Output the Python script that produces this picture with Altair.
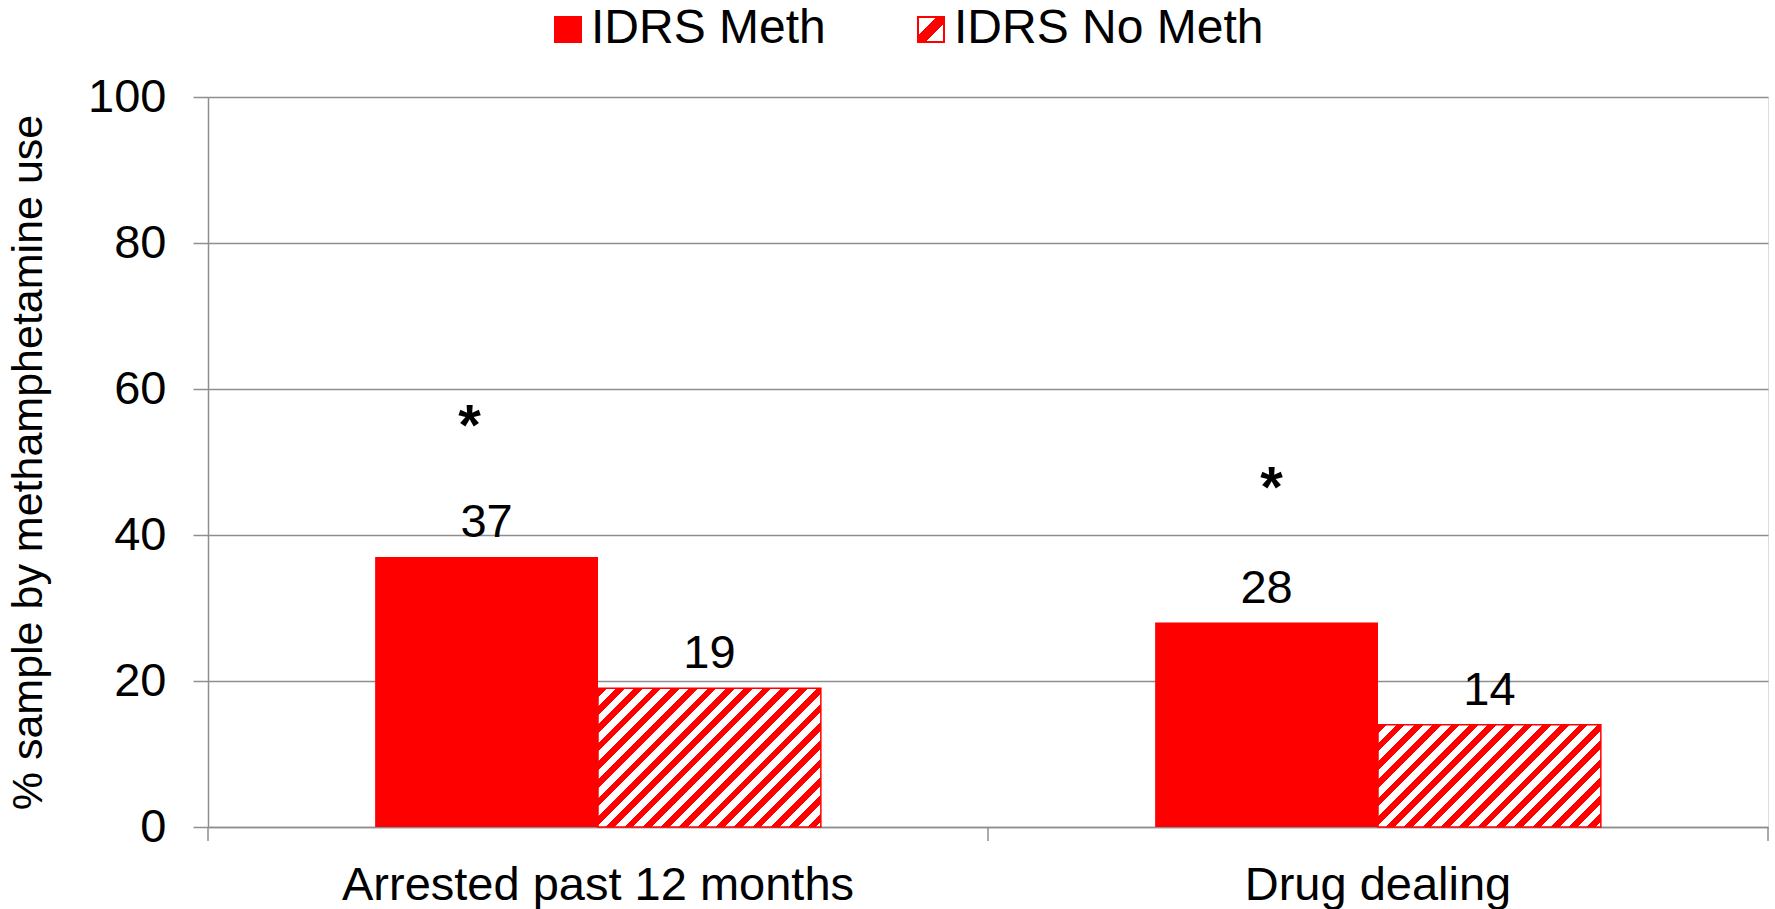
import altair as alt
import pandas as pd

# --- data -----------------------------------------------------------------
categories = ["Arrested past 12 months", "Drug dealing"]
groups = ["IDRS Meth", "IDRS No Meth"]
meth_values = [37, 28]
no_meth_values = [19, 14]
significant = ["*", "*"]
y_ticks = [0, 20, 40, 60, 80, 100]

# --- styling ----------------------------------------------------------------
W, H = 1560, 730
Y_MAX = 100
RED = "#FF0000"
GRID = "#8E8E8E"
FONT = "Liberation Sans"
FS = 47
TICK_LEN = 14
HATCH_PERIOD = 18.3
HATCH_RED = 0.48
STAR_NUDGE = {"Arrested past 12 months": (-17, -112), "Drug dealing": (5, -116)}

rows = []
for c, m, n in zip(categories, meth_values, no_meth_values):
    rows.append({"category": c, "group": groups[0], "value": m})
    rows.append({"category": c, "group": groups[1], "value": n})
df = pd.DataFrame(rows)

x_scale = alt.Scale(domain=categories, paddingInner=0, paddingOuter=0)
off_pad = 0.75
off_scale = alt.Scale(domain=groups, paddingInner=0, paddingOuter=off_pad)
y_scale = alt.Scale(domain=[0, Y_MAX], nice=False, zero=True)

bar_w = (W / len(categories)) / (len(groups) + 2 * off_pad)


def hatch(w, h, period=HATCH_PERIOD, red_frac=HATCH_RED):
    """Diagonal '/' stripes at 45 degrees for a w x h box (bbox gradient)."""
    n = (w + h) / period
    stops = []
    k = 0
    while k < n:
        a = k / n
        b = min((k + red_frac) / n, 1.0)
        c = min((k + 1) / n, 1.0)
        stops += [
            {"offset": a, "color": RED},
            {"offset": b, "color": RED},
            {"offset": b, "color": "white"},
            {"offset": c, "color": "white"},
        ]
        k += 1
    t = (w + h) / (w * w + h * h)
    return {"gradient": "linear", "x1": 0, "y1": 0, "x2": w * t, "y2": h * t,
            "stops": stops}


x_axis = alt.Axis(
    title=None, labelAngle=0, ticks=False, tickSize=0, grid=False,
    labelFont=FONT, labelFontSize=FS, labelColor="black", labelPadding=35,
    labelLimit=2000, domainColor=GRID, domainWidth=1.5,
)
y_axis = alt.Axis(
    values=y_ticks, grid=True, gridColor=GRID, gridWidth=1.5,
    domainColor=GRID, domainWidth=1.5, tickColor=GRID, tickWidth=1.5,
    tickSize=15, labelFont=FONT, labelFontSize=FS, labelColor="black",
    labelPadding=27, labelLimit=500,
    title="% sample by methamphetamine use", titleFont=FONT, titleFontSize=43,
    titleFontWeight="normal", titleColor="black", titlePadding=37,
)


def x_enc(**kw):
    return alt.X("category:N", scale=x_scale, sort=categories, axis=x_axis, **kw)


def off_enc():
    return alt.XOffset("group:N", scale=off_scale, sort=groups)


def y_enc():
    return alt.Y("value:Q", scale=y_scale, axis=y_axis)


meth_df = df[df["group"] == groups[0]]
nometh_df = df[df["group"] == groups[1]]

solid = alt.Chart(meth_df).mark_bar(color=RED).encode(
    x=x_enc(), xOffset=off_enc(), y=y_enc()
)

layers = [solid]

# hatched bars, one layer per bar so each gets a gradient matched to its box
for _, r in nometh_df.iterrows():
    h = r["value"] / Y_MAX * H
    layers.append(
        alt.Chart(pd.DataFrame([r])).mark_bar(
            fill=hatch(bar_w, h), stroke=RED, strokeWidth=1.5
        ).encode(x=x_enc(), xOffset=off_enc(), y=y_enc())
    )

labels = alt.Chart(df).mark_text(
    font=FONT, fontSize=FS, color="black", baseline="alphabetic", dy=-20
).encode(x=x_enc(), xOffset=off_enc(), y=y_enc(), text=alt.Text("value:Q"))
layers.append(labels)

# significance markers above the IDRS Meth bars
for c, s, v in zip(categories, significant, meth_values):
    star_df = pd.DataFrame([{"category": c, "group": groups[0], "value": v,
                             "mark": s}])
    ndx, ndy = STAR_NUDGE[c]
    layers.append(
        alt.Chart(star_df).mark_text(
            font=FONT, fontSize=58, fontWeight="bold", color="black",
            baseline="alphabetic", dy=ndy, dx=ndx
        ).encode(x=x_enc(), xOffset=off_enc(), y=y_enc(), text="mark:N")
    )

# category-boundary tick marks on the x axis
tick_df = pd.DataFrame({"category": categories})
tick_depth = TICK_LEN / H * Y_MAX
for frame, pos in ((tick_df, 0), (tick_df.tail(1), 1)):
    layers.append(
        alt.Chart(frame).mark_rule(color=GRID, strokeWidth=1.5).encode(
            x=x_enc(bandPosition=pos),
            y=alt.Y(datum=0, scale=y_scale, axis=y_axis),
            y2=alt.datum(-tick_depth),
        )
    )

# legend drawn above the plot
LEG_Y0, LEG_Y1 = -80, -55
legend_items = [
    {"label": groups[0], "sx": 347, "tx": 383},
    {"label": groups[1], "sx": 710, "tx": 746},
]
SW = 26
legend_fill = [RED, {
    "gradient": "linear", "x1": 0, "y1": 0, "x2": 1, "y2": 1,
    "stops": [
        {"offset": 0.0, "color": "white"}, {"offset": 0.36, "color": "white"},
        {"offset": 0.36, "color": RED}, {"offset": 0.64, "color": RED},
        {"offset": 0.64, "color": "white"}, {"offset": 1.0, "color": "white"},
    ],
}]
for item, fill in zip(legend_items, legend_fill):
    one = pd.DataFrame([{"label": item["label"]}])
    layers.append(
        alt.Chart(one).mark_rect(fill=fill, stroke=RED, strokeWidth=2).encode(
            x=alt.value(item["sx"]), x2=alt.value(item["sx"] + SW),
            y=alt.value(LEG_Y0), y2=alt.value(LEG_Y1),
        )
    )
    layers.append(
        alt.Chart(one).mark_text(
            font=FONT, fontSize=48, color="black", align="left",
            baseline="alphabetic",
        ).encode(x=alt.value(item["tx"]), y=alt.value(LEG_Y1 + 1),
                 text="label:N")
    )

chart = alt.layer(*layers).properties(
    width=W, height=H,
    autosize=alt.AutoSizeParams(type="none"),
    padding={"left": 208, "top": 97, "right": 7, "bottom": 82},
).configure_view(strokeWidth=0).configure(background="white")

chart.save("out.html", embed_options={"renderer": "svg", "actions": False})
